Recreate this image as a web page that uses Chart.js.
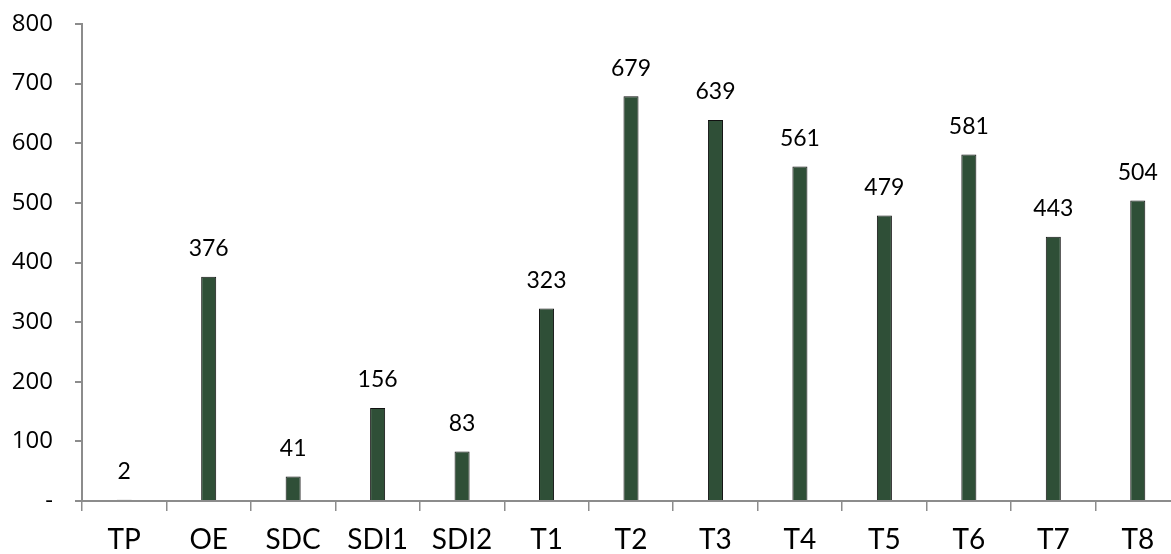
<!DOCTYPE html>
<html>
<head>
<meta charset="utf-8">
<script src="https://cdn.jsdelivr.net/npm/chart.js@4"></script>
<style>
html,body{margin:0;padding:0;background:#fff;overflow:hidden;width:1171px;height:554px;}
#wrap{position:relative;width:1180px;height:554px;}
#fontwarm{position:absolute;left:-9999px;top:0;white-space:pre;}
</style>
</head>
<body>
<div id="wrap"><canvas id="c" width="1180" height="554"></canvas></div>
<div id="fontwarm" aria-hidden="true"><span style="font:24px 'Open Sans'">0</span><span style="font:23px Lato">0</span></div>
<script>
const categories = ["TP","OE","SDC","SDI1","SDI2","T1","T2","T3","T4","T5","T6","T7","T8"];
const values = [2,376,41,156,83,323,679,639,561,479,581,443,504];
const yTicks = [0,100,200,300,400,500,600,700,800];

const barColor = '#2F4F37';
const axisColor = '#8c8c8c';

const valueLabels = {
  id: 'valueLabels',
  afterDatasetsDraw(chart) {
    const ctx = chart.ctx;
    const meta = chart.getDatasetMeta(0);
    ctx.save();
    ctx.font = '23px Lato';
    ctx.fillStyle = '#000';
    ctx.textAlign = 'center';
    ctx.textBaseline = 'middle';
    meta.data.forEach((bar, i) => { ctx.fillText(String(values[i]), bar.x, bar.y - 28); });
    ctx.restore();
  }
};

new Chart(document.getElementById('c'), {
  type: 'bar',
  data: {
    labels: categories,
    datasets: [{
      data: values,
      backgroundColor: barColor,
      borderColor: '#111',
      borderWidth: 1,
      barPercentage: 0.178,
      categoryPercentage: 1.0
    }]
  },
  options: {
    responsive: false,
    animation: false,
    layout: { padding: { top: 24, right: 0, bottom: 0, left: 0 } },
    plugins: { legend: { display: false }, tooltip: { enabled: false } },
    scales: {
      x: {
        offset: true,
        afterFit(scale) { scale.height = 53; },
        grid: { offset: true, drawOnChartArea: false, tickLength: 10, color: axisColor, lineWidth: 1.5 },
        border: { color: axisColor, width: 2 },
        ticks: { color: '#000', font: { family: 'Lato', size: 28 }, padding: 12, maxRotation: 0, autoSkip: false }
      },
      y: {
        min: 0, max: 800,
        afterBuildTicks(scale) { scale.ticks = yTicks.map(v => ({ value: v })); },
        afterFit(scale) { scale.width = 82; scale.paddingTop = 0; scale.paddingBottom = 0; },
        grid: { drawOnChartArea: false, tickLength: 7, color: axisColor, lineWidth: 2 },
        border: { color: axisColor, width: 2 },
        ticks: {
          color: '#000', font: { family: "'Open Sans'", size: 24 }, padding: 22,
          callback: (v) => v === 0 ? '-' : String(v)
        }
      }
    }
  },
  plugins: [valueLabels]
});
</script>
</body>
</html>
